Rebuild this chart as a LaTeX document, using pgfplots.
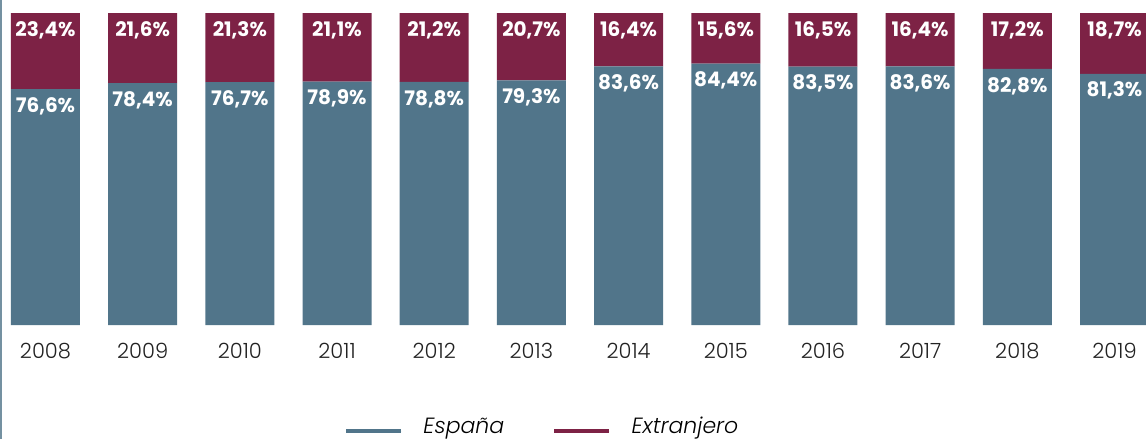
\documentclass[border=0pt]{standalone}
\usepackage{fontspec}
\usepackage{pgfplots}
\usepackage{pgfplotstable}
\pgfplotsset{compat=1.18}
\setmainfont{Poppins}
\IfFontExistsTF{Poppins Light}{\newfontfamily\lightfont{Poppins Light}}{\newfontfamily\lightfont{Poppins}}
\IfFontExistsTF{Poppins Light Italic}{\newfontfamily\lightit{Poppins Light Italic}}{\newcommand\lightit{\itshape}}

\definecolor{espana}{HTML}{51758A}
\definecolor{extran}{HTML}{7D2245}
\definecolor{yeartxt}{HTML}{222222}

% heights (esp, ext) and printed values (espl, extl)
\pgfplotstableread{
x esp  ext  espl extl
0 76.6 23.4 76,6 23,4
1 78.4 21.6 78,4 21,6
2 78.7 21.3 76,7 21,3
3 78.9 21.1 78,9 21,1
4 78.8 21.2 78,8 21,2
5 79.3 20.7 79,3 20,7
6 83.6 16.4 83,6 16,4
7 84.4 15.6 84,4 15,6
8 83.5 16.5 83,5 16,5
9 83.6 16.4 83,6 16,4
10 82.8 17.2 82,8 17,2
11 81.3 18.7 81,3 18,7
}\datatable

\begin{document}
\begin{tikzpicture}
\useasboundingbox (0pt,-57pt) rectangle (573pt,162.5pt);
\draw[line width=1pt, color=espana!80] (0.5pt,-57pt) -- (0.5pt,162.5pt);
\begin{axis}[
    scale only axis,
    width=573pt, height=156pt,
    at={(0pt,0pt)}, anchor=south west,
    xmin=-0.468, xmax=11.324,
    ymin=4, ymax=100,
    ybar stacked,
    bar width=0.71,
    axis line style={draw=none},
    tick style={draw=none},
    ytick=\empty,
    xtick={0,...,11},
    xticklabels={2008,2009,2010,2011,2012,2013,2014,2015,2016,2017,2018,2019},
    xticklabel style={anchor=center, yshift=-13pt, text=yeartxt,
        font=\lightfont\fontsize{10.5}{12}\selectfont},
    point meta=explicit symbolic,
    visualization depends on={rawy \as \rawy},
    nodes near coords={\pgfplotspointmeta\%},
    every node near coord/.append style={anchor=center,
        yshift={\rawy*0.8125pt-8.5pt},
        text=white, font=\bfseries\fontsize{10}{12}\selectfont},
    legend style={at={(0.474,0)}, anchor=center, yshift=-51pt,
        draw=none, fill=none, legend columns=2,
        font=\lightit\fontsize{11}{13}\selectfont,
        /tikz/every odd column/.append style={column sep=8pt},
        /tikz/every even column/.append style={column sep=22pt}},
]
\addplot[fill=espana, draw=none,
    legend image code/.code={\draw[espana, line width=2.2pt] (0pt,-2pt) -- (27.5pt,-2pt);}]
    table[x=x, y=esp, meta=espl] {\datatable};
\addlegendentry{España}
\addplot[fill=extran, draw=none,
    legend image code/.code={\draw[extran, line width=2.2pt] (0pt,-2pt) -- (27.5pt,-2pt);}]
    table[x=x, y=ext, meta=extl] {\datatable};
\addlegendentry{Extranjero}
\end{axis}
\end{tikzpicture}
\end{document}
